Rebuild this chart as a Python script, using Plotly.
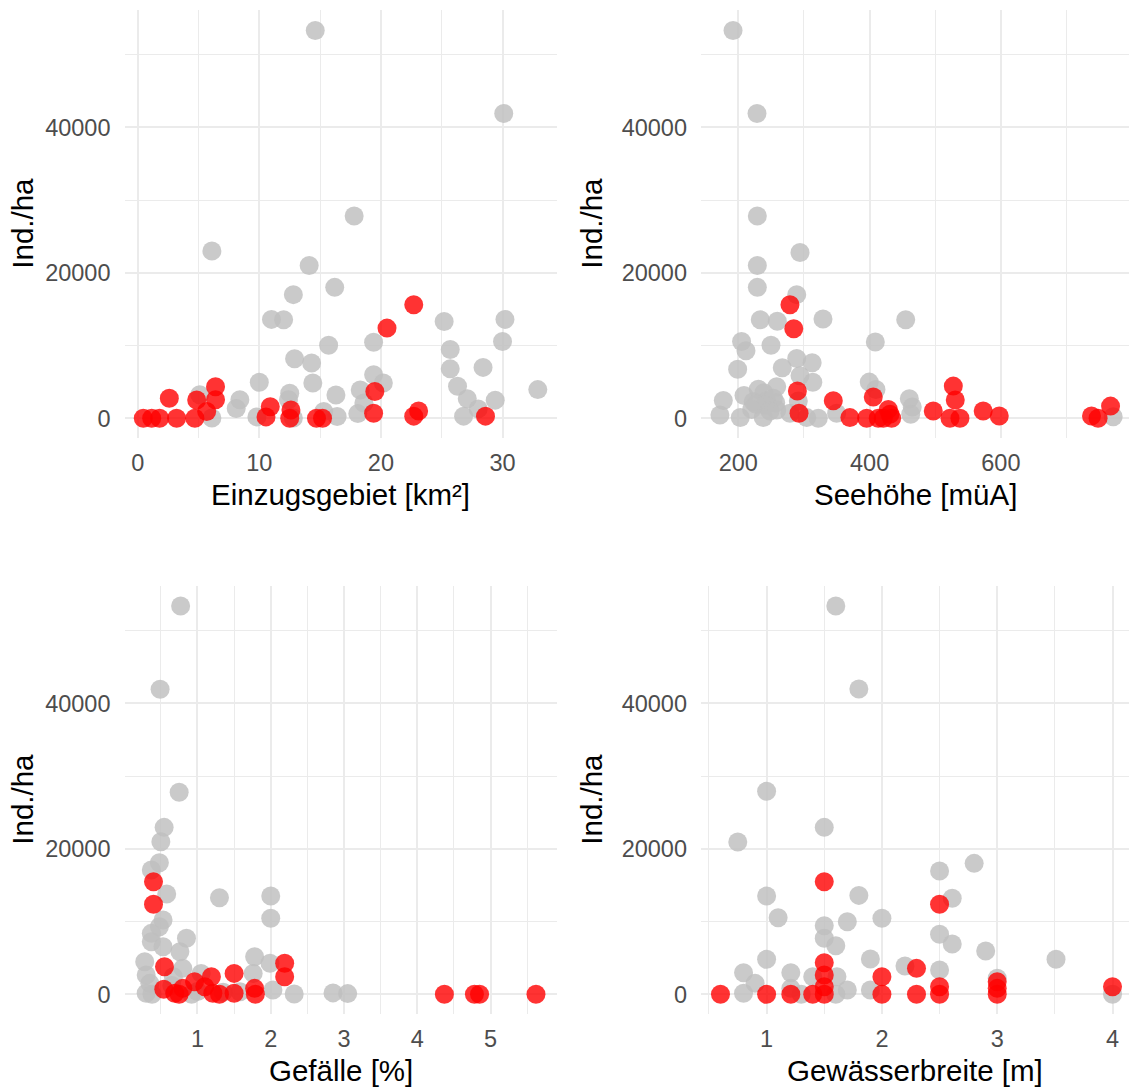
import plotly.graph_objects as go

# ---- data: density (Ind./ha) against four site descriptors ----
# grey = sites without the species, red = sites with the species
area_grey_x = [14.6, 30.1, 6.1, 17.8, 14.1, 16.2, 12.8, 11.0, 12.0, 15.7, 19.4, 12.9, 14.3,
               10.0, 14.4, 19.4, 20.2, 18.3, 12.5, 12.4, 16.3, 8.4, 8.1, 5.1, 6.1, 9.8,
               15.3, 16.4, 18.1, 12.8, 25.2, 30.2, 30.0, 25.7, 25.7, 28.4, 26.3, 27.1,
               29.4, 32.9, 28.0, 26.8, 18.6]
area_grey_y = [53300, 41900, 23000, 27800, 21000, 18000, 17000, 13600, 13550, 10050, 10450,
               8200, 7600, 4950, 4850, 6000, 4850, 3900, 3450, 2550, 3200, 2550, 1350, 3250,
               50, 200, 950, 250, 650, 50, 13300, 13600, 10550, 9450, 6800, 7000, 4400,
               2700, 2500, 3950, 1300, 300, 2100]
area_red_x = [22.7, 20.5, 19.5, 19.4, 23.1, 22.7, 28.6, 2.6, 6.4, 6.4, 4.85, 5.67, 4.7,
              3.2, 1.8, 1.15, 0.46, 10.9, 10.55, 12.6, 12.5, 14.7, 15.2]
area_red_y = [15600, 12400, 3700, 700, 1000, 300, 300, 2750, 4350, 2550, 2520, 950, 0,
              0, 0, 0, 0, 1600, 200, 1150, 0, 0, 0]

alt_grey_x = [192, 228.5, 229, 294, 229, 229, 289, 233.5, 259.4, 329, 455, 205, 211.7,
              408.7, 249.8, 199, 267, 289, 312.5, 294, 313.5, 399.5, 409.7, 208.7, 177.2,
              230.5, 239, 258.5, 243, 257, 253.3, 222.8, 240.7, 226.9, 460.5, 465, 172,
              203, 238, 258.5, 248.3, 278.7, 291.4, 304.2, 321.8, 349.8, 462.6, 771, 220.4]
alt_grey_y = [53300, 41900, 27800, 22800, 21000, 18000, 17000, 13550, 13350, 13650, 13550,
              10550, 9300, 10500, 10050, 6750, 6950, 8230, 7650, 5860, 4960, 4980, 3970,
              3150, 2450, 3990, 3520, 4340, 2370, 2150, 2750, 2280, 1830, 1920, 2700, 1550,
              450, 120, 120, 1140, 1000, 700, 2370, 100, 0, 700, 550, 230, 1230]
alt_red_x = [278.7, 284.5, 290, 292.5, 344.7, 370, 395.5, 405.6, 413.2, 420.8, 428.5, 431,
             433.6, 497, 527.5, 530.5, 522.4, 537.6, 573, 597.5, 738, 748, 767]
alt_red_y = [15600, 12300, 3750, 700, 2420, 100, 0, 2920, 0, 0, 1230, 550, 0, 1000, 4430,
             2510, 0, 0, 1000, 320, 320, 0, 1680]

slope_grey_x = [0.77, 0.49, 0.75, 0.545, 0.50, 0.48, 0.37, 0.58, 1.30, 2.0, 2.0, 0.53, 0.48,
                0.37, 0.85, 0.37, 0.53, 0.76, 1.78, 1.99, 0.28, 0.80, 0.30, 1.05, 1.76, 0.35,
                0.67, 2.03, 2.32, 2.85, 3.05, 0.30, 0.38, 0.92, 1.58, 0.65, 1.0, 1.35]
slope_grey_y = [53370, 41920, 27770, 22950, 20980, 18090, 17090, 13790, 13280, 13510, 10450,
                10210, 9290, 8380, 7700, 7230, 6540, 5860, 5170, 4260, 4480, 3570, 2650, 2880,
                2880, 1510, 2420, 590, 40, 200, 100, 140, 0, 0, 360, 1200, 400, 300]
slope_red_x = [0.40, 0.40, 0.55, 0.54, 0.69, 0.80, 0.96, 1.10, 1.19, 1.21, 1.50, 1.50, 1.78,
               1.79, 2.19, 2.19, 4.37, 4.78, 4.85, 5.62, 0.75, 1.3]
slope_red_y = [15480, 12370, 3800, 690, 140, 820, 1730, 1050, 2420, 140, 2880, 140, 820, 0,
               4260, 2420, 0, 0, 0, 0, 0, 0]

width_grey_x = [1.60, 1.80, 1.0, 1.50, 0.75, 2.50, 2.80, 1.0, 1.80, 2.61, 1.10, 1.50, 1.70,
                2.0, 1.50, 1.60, 2.50, 2.61, 2.90, 3.51, 1.0, 1.90, 0.80, 1.21, 2.20, 2.50,
                0.90, 1.40, 1.61, 0.80, 1.30, 1.60, 1.70, 1.90, 3.0, 4.0, 1.21]
width_grey_y = [53370, 41960, 27900, 22950, 20930, 16950, 18000, 13510, 13600, 13200, 10530,
                9430, 9980, 10450, 7700, 6680, 8250, 6910, 5950, 4810, 4810, 4850, 2970, 2970,
                3890, 3340, 1510, 2420, 2420, 140, 0, 0, 590, 590, 2200, 0, 820]
width_red_x = [1.50, 2.50, 1.50, 1.50, 1.50, 1.50, 2.0, 2.0, 2.30, 2.30, 2.5, 2.5, 3.0, 3.0,
               3.0, 0.60, 1.0, 1.21, 1.40, 4.0]
width_red_y = [15480, 12370, 4340, 2650, 1050, 0, 2420, 0, 3570, 0, 1050, 0, 1730, 820, 0,
               0, 0, 0, 0, 1050]

# axis titles and tick labels
x_titles = ["Einzugsgebiet [km²]", "Seehöhe [müA]", "Gefälle [%]", "Gewässerbreite [m]"]
y_title = "Ind./ha"
y_ticks = [0, 20000, 40000]
y_ticktext = ["0", "20000", "40000"]
x_ticks = [[0, 10, 20, 30], [200, 400, 600], [1, 2, 3, 4, 5], [1, 2, 3, 4]]

# ---- geometry (pixels in a 1129 x 1088 canvas) ----
W, H = 1129, 1088
col_px = [(124.5, 557.0), (701.0, 1129.0)]
row_px = [(9.6, 437.8), (585.6, 1013.8)]
x_ranges = [[-1.086, 34.48], [143.2, 795.1], [0.004, 5.907], [0.431, 4.143]]
x_minor = [5, 100, 0.5, 0.5]
ytitle_px = [23.0, 592.0]

GRID = "#EBEBEB"
FONT = "Liberation Sans, Arial, sans-serif"
GREY = "rgba(190,190,190,0.82)"
RED = "rgba(255,0,0,0.8)"
MSIZE = 19
TICK_SIZE = 23.5
TITLE_SIZE = 29.5

panels = [
    (area_grey_x, area_grey_y, area_red_x, area_red_y),
    (alt_grey_x, alt_grey_y, alt_red_x, alt_red_y),
    (slope_grey_x, slope_grey_y, slope_red_x, slope_red_y),
    (width_grey_x, width_grey_y, width_red_x, width_red_y),
]

fig = go.Figure()
annotations = []
for i, (gx, gy, rx, ry) in enumerate(panels):
    r, c = divmod(i, 2)
    suffix = "" if i == 0 else str(i + 1)
    xa, ya = "x" + suffix, "y" + suffix
    for xs, ys, col in ((gx, gy, GREY), (rx, ry, RED)):
        fig.add_trace(go.Scatter(
            x=xs, y=ys, mode="markers", xaxis=xa, yaxis=ya, showlegend=False,
            hoverinfo="skip",
            marker=dict(size=MSIZE, color=col, line=dict(width=0)),
        ))
    x0, x1 = col_px[c]
    y0, y1 = row_px[r]
    xdom = [x0 / W, x1 / W]
    ydom = [1 - y1 / H, 1 - y0 / H]
    fig.layout["xaxis" + suffix] = dict(
        domain=xdom, range=x_ranges[i], anchor=ya, fixedrange=True,
        tickvals=x_ticks[i], ticktext=[str(v) for v in x_ticks[i]],
        showgrid=True, gridcolor=GRID, gridwidth=2, zeroline=False, showline=False,
        ticks="", ticklabelstandoff=9,
        tickfont=dict(family=FONT, size=TICK_SIZE, color="#4D4D4D"),
        minor=dict(showgrid=True, gridcolor=GRID, gridwidth=1,
                   tick0=x_minor[i], dtick=x_minor[i] * 2),
    )
    fig.layout["yaxis" + suffix] = dict(
        domain=ydom, range=[-2675, 56175], anchor=xa, fixedrange=True,
        tickvals=y_ticks, ticktext=y_ticktext,
        showgrid=True, gridcolor=GRID, gridwidth=2, zeroline=False, showline=False,
        ticks="", ticklabelstandoff=13,
        tickfont=dict(family=FONT, size=TICK_SIZE, color="#4D4D4D"),
        minor=dict(showgrid=True, gridcolor=GRID, gridwidth=1, tick0=10000, dtick=20000),
    )
    # axis titles
    annotations.append(dict(
        text=x_titles[i], xref="paper", yref="paper",
        x=(x0 + x1) / 2 / W, y=1 - (y1 + 57) / H, xanchor="center", yanchor="middle",
        showarrow=False, font=dict(family=FONT, size=TITLE_SIZE, color="black"),
    ))
    annotations.append(dict(
        text=y_title, xref="paper", yref="paper", textangle=-90,
        x=ytitle_px[c] / W, y=1 - (y0 + y1) / 2 / H, xanchor="center", yanchor="middle",
        showarrow=False, font=dict(family=FONT, size=TITLE_SIZE, color="black"),
    ))

fig.update_layout(
    width=W, height=H, margin=dict(l=0, r=0, t=0, b=0),
    paper_bgcolor="white", plot_bgcolor="white",
    annotations=annotations,
)

fig.write_html("out.html", config={"displayModeBar": False})
